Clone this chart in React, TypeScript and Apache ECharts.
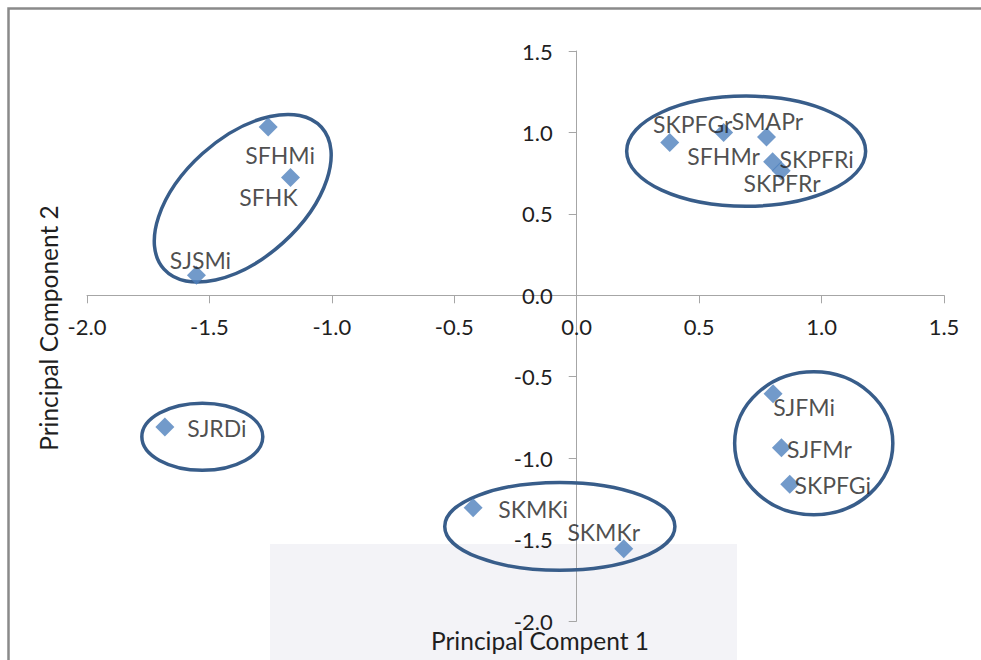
import React, { useEffect, useRef } from "react";
import * as echarts from "echarts";

// ---- data ----
const sampleNames = ["SFHMi", "SFHK", "SJSMi", "SJRDi", "SKMKi", "SKMKr", "SJFMi", "SJFMr", "SKPFGi", "SKPFGr", "SFHMr", "SMAPr", "SKPFRi", "SKPFRr"];
const pc1 = [-1.26, -1.169, -1.553, -1.682, -0.423, 0.192, 0.802, 0.836, 0.87, 0.38, 0.6, 0.775, 0.8, 0.835];
const pc2 = [1.034, 0.723, 0.123, -0.809, -1.304, -1.556, -0.604, -0.936, -1.161, 0.938, 0.999, 0.972, 0.82, 0.765];

const axisMin = -2;
const xAxisMax = 1.5;
const yAxisMax = 1.5;
const axisStep = 0.5;

// cluster ellipses (centre and semi-axes in data units, rotation in degrees)
const clusterCX = [-1.364, 0.692, 0.968, -0.069, -1.529];
const clusterCY = [0.596, 0.885, -0.909, -1.419, -0.869];
const clusterRX = [0.433, 0.488, 0.323, 0.47, 0.247];
const clusterRY = [0.369, 0.338, 0.439, 0.27, 0.206];
const clusterAngle = [42, 0, 0, 0, 0];

const xTitle = "Principal Compent 1";
const yTitle = "Principal Component 2";

// ---- styles ----
const FONT = "Lato";
const TEXT_COLOR = "#1f1f1f";
const AXIS_COLOR = "#a6a6a6";
const MARKER_COLOR = "#4F81BD";
const ELLIPSE_COLOR = "#385D8A";

const W = 981;
const H = 660;
const GRID = { left: 87, right: 37, top: 51, bottom: 39 };

const labelOffsets: Record<string, [number, number]> = {
  SFHMi: [12, 28],
  SFHK: [-22, 19],
  SJSMi: [4, -15],
  SJRDi: [52, 1],
  SKMKi: [60, 1],
  SKMKr: [-20, -17],
  SJFMi: [31, 13],
  SJFMr: [38, 1],
  SKPFGi: [43, 1],
  SKPFGr: [23, -19],
  SFHMr: [0, 23],
  SMAPr: [1, -16],
  SKPFRi: [44, -3],
  SKPFRr: [1, 12],
};

export default function App() {
  const ref = useRef<HTMLDivElement>(null);

  useEffect(() => {
    if (!ref.current) return;
    const chart = echarts.init(ref.current, undefined, { renderer: "svg" });

    const points = sampleNames.map((name, i) => ({
      name,
      value: [pc1[i], pc2[i]],
      label: { offset: labelOffsets[name] || [0, 0] },
    }));

    const ellipses = clusterCX.map((cx, i) => [cx, clusterCY[i], clusterRX[i], clusterRY[i], clusterAngle[i]]);

    const labelFmt = (v: number) => v.toFixed(1);

    // place axes through the origin (labels travel with the axis line)
    const gridW = W - GRID.left - GRID.right;
    const gridH = H - GRID.top - GRID.bottom;
    const xAxisOffset = -(gridH * (0 - axisMin)) / (yAxisMax - axisMin);
    const yAxisOffset = -(gridW * (0 - axisMin)) / (xAxisMax - axisMin);

    chart.setOption({
      animation: false,
      backgroundColor: "#ffffff",
      grid: { ...GRID, containLabel: false },
      xAxis: {
        type: "value",
        position: "bottom",
        offset: xAxisOffset,
        min: axisMin,
        max: xAxisMax,
        interval: axisStep,
        axisLine: { show: true, onZero: false, lineStyle: { color: AXIS_COLOR, width: 1 } },
        axisTick: { show: true, length: 8, lineStyle: { color: AXIS_COLOR } },
        axisLabel: { formatter: labelFmt, fontFamily: FONT, fontSize: 22, color: TEXT_COLOR, margin: 20 },
        splitLine: { show: false },
      },
      yAxis: {
        type: "value",
        position: "left",
        offset: yAxisOffset,
        min: axisMin,
        max: yAxisMax,
        interval: axisStep,
        axisLine: { show: true, onZero: false, lineStyle: { color: AXIS_COLOR, width: 1 } },
        axisTick: { show: true, length: 8, lineStyle: { color: AXIS_COLOR } },
        axisLabel: { formatter: labelFmt, fontFamily: FONT, fontSize: 22, color: TEXT_COLOR, margin: 24 },
        splitLine: { show: false },
      },
      graphic: [
        {
          type: "rect",
          z: -10,
          silent: true,
          shape: { x: 270, y: 544, width: 467, height: 130 },
          style: { fill: "#f3f3f7" },
        },
        {
          type: "rect",
          z: 100,
          silent: true,
          shape: { x: 8.5, y: 8.5, width: 1000, height: 700 },
          style: { fill: "none", stroke: "#8a8a8a", lineWidth: 2.5 },
        },
        {
          type: "text",
          x: 540,
          y: 640,
          style: { text: xTitle, fontFamily: FONT, fontSize: 24.5, fill: TEXT_COLOR, align: "center", verticalAlign: "middle" },
        },
        {
          type: "text",
          x: 48,
          y: 328,
          rotation: Math.PI / 2,
          style: { text: yTitle, fontFamily: FONT, fontSize: 24.5, fill: TEXT_COLOR, align: "center", verticalAlign: "middle" },
        },
      ],
      series: [
        {
          type: "custom",
          silent: true,
          clip: false,
          z: 3,
          encode: { x: 0, y: 1 },
          data: ellipses,
          renderItem: (_params: any, api: any) => {
            const c = api.coord([api.value(0), api.value(1)]);
            const sx = api.size([api.value(2), 0])[0];
            const sy = api.size([0, api.value(3)])[1];
            return {
              type: "ellipse",
              x: c[0],
              y: c[1],
              rotation: (api.value(4) * Math.PI) / 180,
              shape: { cx: 0, cy: 0, rx: sx, ry: sy },
              style: { fill: "none", stroke: ELLIPSE_COLOR, lineWidth: 3.5 },
            };
          },
        },
        {
          type: "scatter",
          symbol: "diamond",
          symbolSize: 19,
          z: 4,
          itemStyle: { color: MARKER_COLOR },
          label: {
            show: true,
            position: "inside",
            formatter: "{b}",
            fontFamily: FONT,
            fontSize: 23,
            color: TEXT_COLOR,
            align: "center",
            verticalAlign: "middle",
          },
          data: points,
        },
      ],
    });

    return () => chart.dispose();
  }, []);

  return <div ref={ref} style={{ position: "fixed", left: 0, top: 0, width: W, height: H }} />;
}
